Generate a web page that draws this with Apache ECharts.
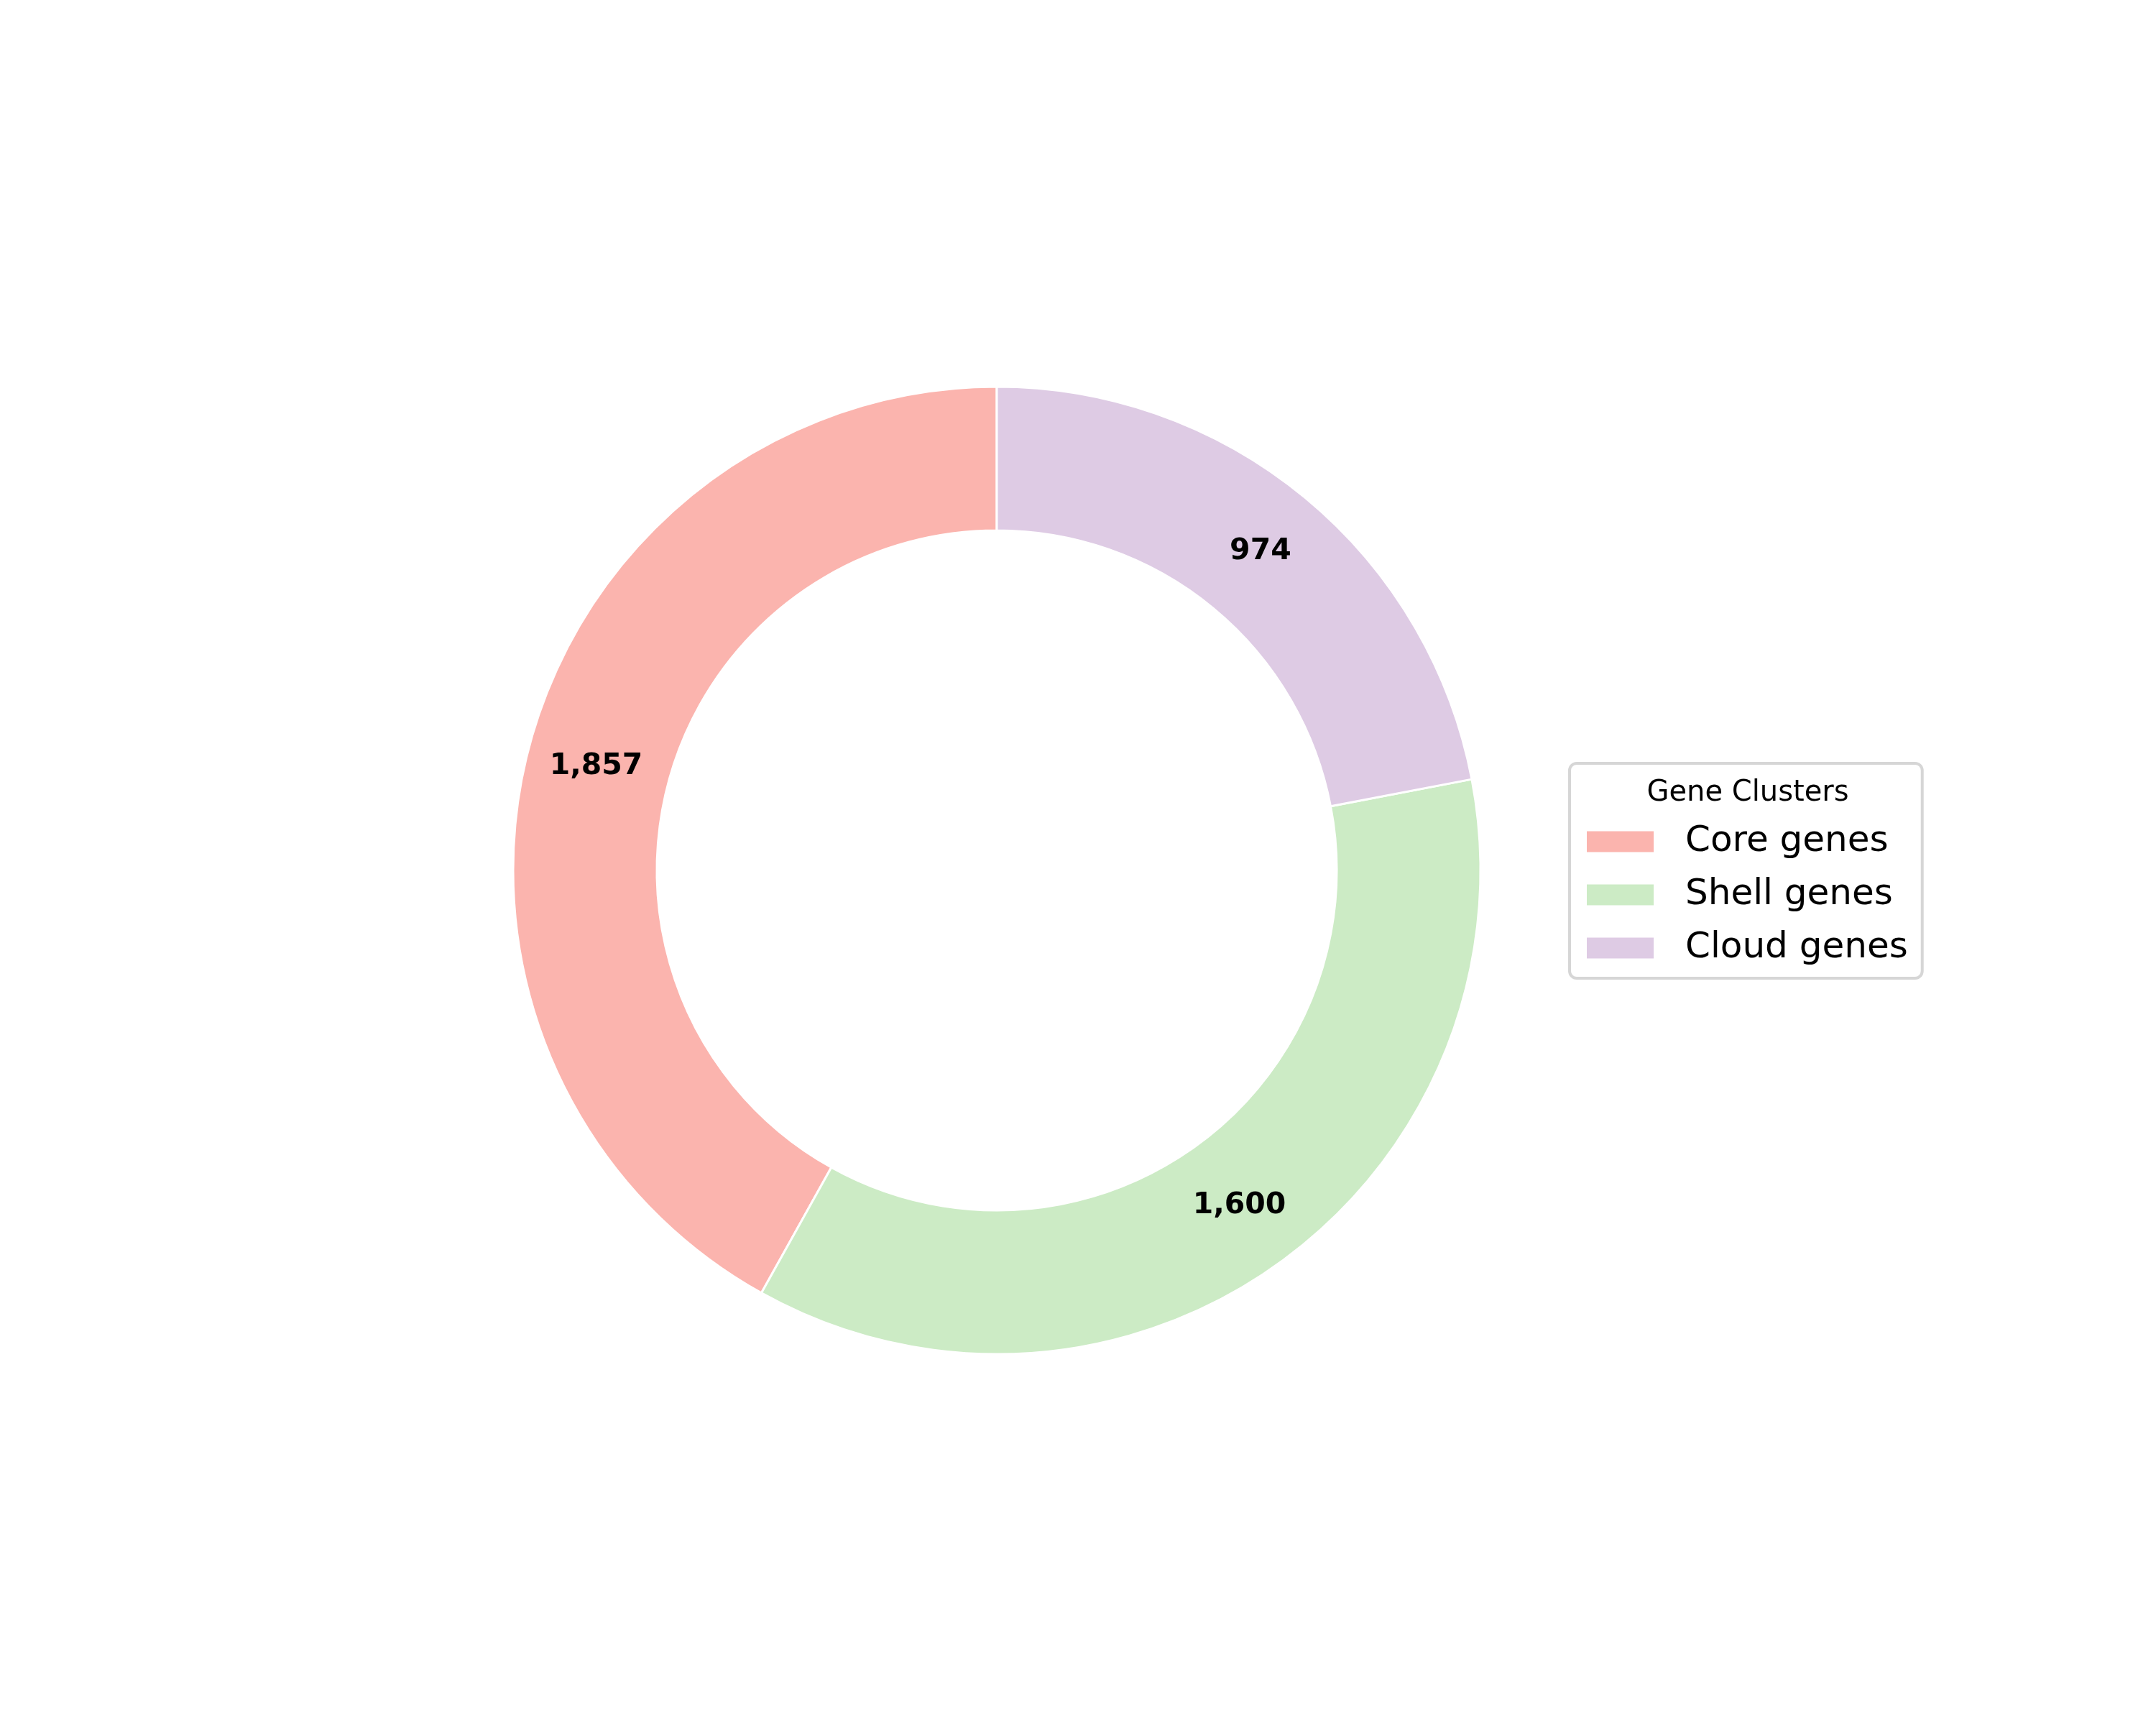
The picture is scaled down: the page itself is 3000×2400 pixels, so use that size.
<!DOCTYPE html>
<html>
<head>
<meta charset="UTF-8">
<title>Gene Clusters</title>
<script src="https://cdn.jsdelivr.net/npm/echarts@6/dist/echarts.min.js"></script>
<style>
  html, body { margin: 0; padding: 0; background: #fff; }
  #chart { width: 3000px; height: 2400px; }
</style>
</head>
<body>
<div id="chart"></div>
<script type="text/javascript">
// data
var categories = ['Core genes', 'Shell genes', 'Cloud genes'];
var geneCounts = [1857, 1600, 974];
var sliceColors = ['#fbb4ae', '#ccebc5', '#decbe4'];

var font = 'DejaVu Sans';

function withCommas(n) {
    return String(n).replace(/\B(?=(\d{3})+(?!\d))/g, ',');
}

var pieData = categories.map(function (name, i) {
    return { name: name, value: geneCounts[i], itemStyle: { color: sliceColors[i] } };
});

var myChart = echarts.init(document.getElementById('chart'));
var option = {
    backgroundColor: '#ffffff',
    animation: false,
    title: {
        text: 'Gene Clusters',
        left: 2427,
        top: 1079,
        textAlign: 'center',
        textStyle: { fontFamily: font, fontSize: 40, fontWeight: 'normal', color: '#000' }
    },
    legend: {
        orient: 'vertical',
        left: 2184,
        top: 1062,
        data: categories,
        icon: 'rect',
        itemWidth: 95,
        itemHeight: 31,
        itemGap: 24,
        padding: [84, 20, 17, 22],
        backgroundColor: '#ffffff',
        borderColor: '#d6d6d6',
        borderWidth: 4,
        borderRadius: 10,
        selectedMode: false,
        textStyle: {
            fontFamily: font,
            fontSize: 50,
            lineHeight: 46,
            color: '#000',
            padding: [0, 0, 0, 38]
        }
    },
    series: [
        {
            name: 'Gene Clusters',
            type: 'pie',
            center: [1387, 1211],
            radius: [473, 673],
            startAngle: 90,
            clockwise: false,
            data: pieData,
            itemStyle: { borderColor: '#ffffff', borderWidth: 3 },
            label: {
                show: true,
                position: 'inside',
                formatter: function (p) { return withCommas(p.value); },
                fontFamily: font,
                fontSize: 41,
                fontWeight: 'bold',
                color: '#000'
            },
            labelLine: { show: false },
            emphasis: { disabled: true }
        }
    ]
};
myChart.setOption(option);
</script>
</body>
</html>
